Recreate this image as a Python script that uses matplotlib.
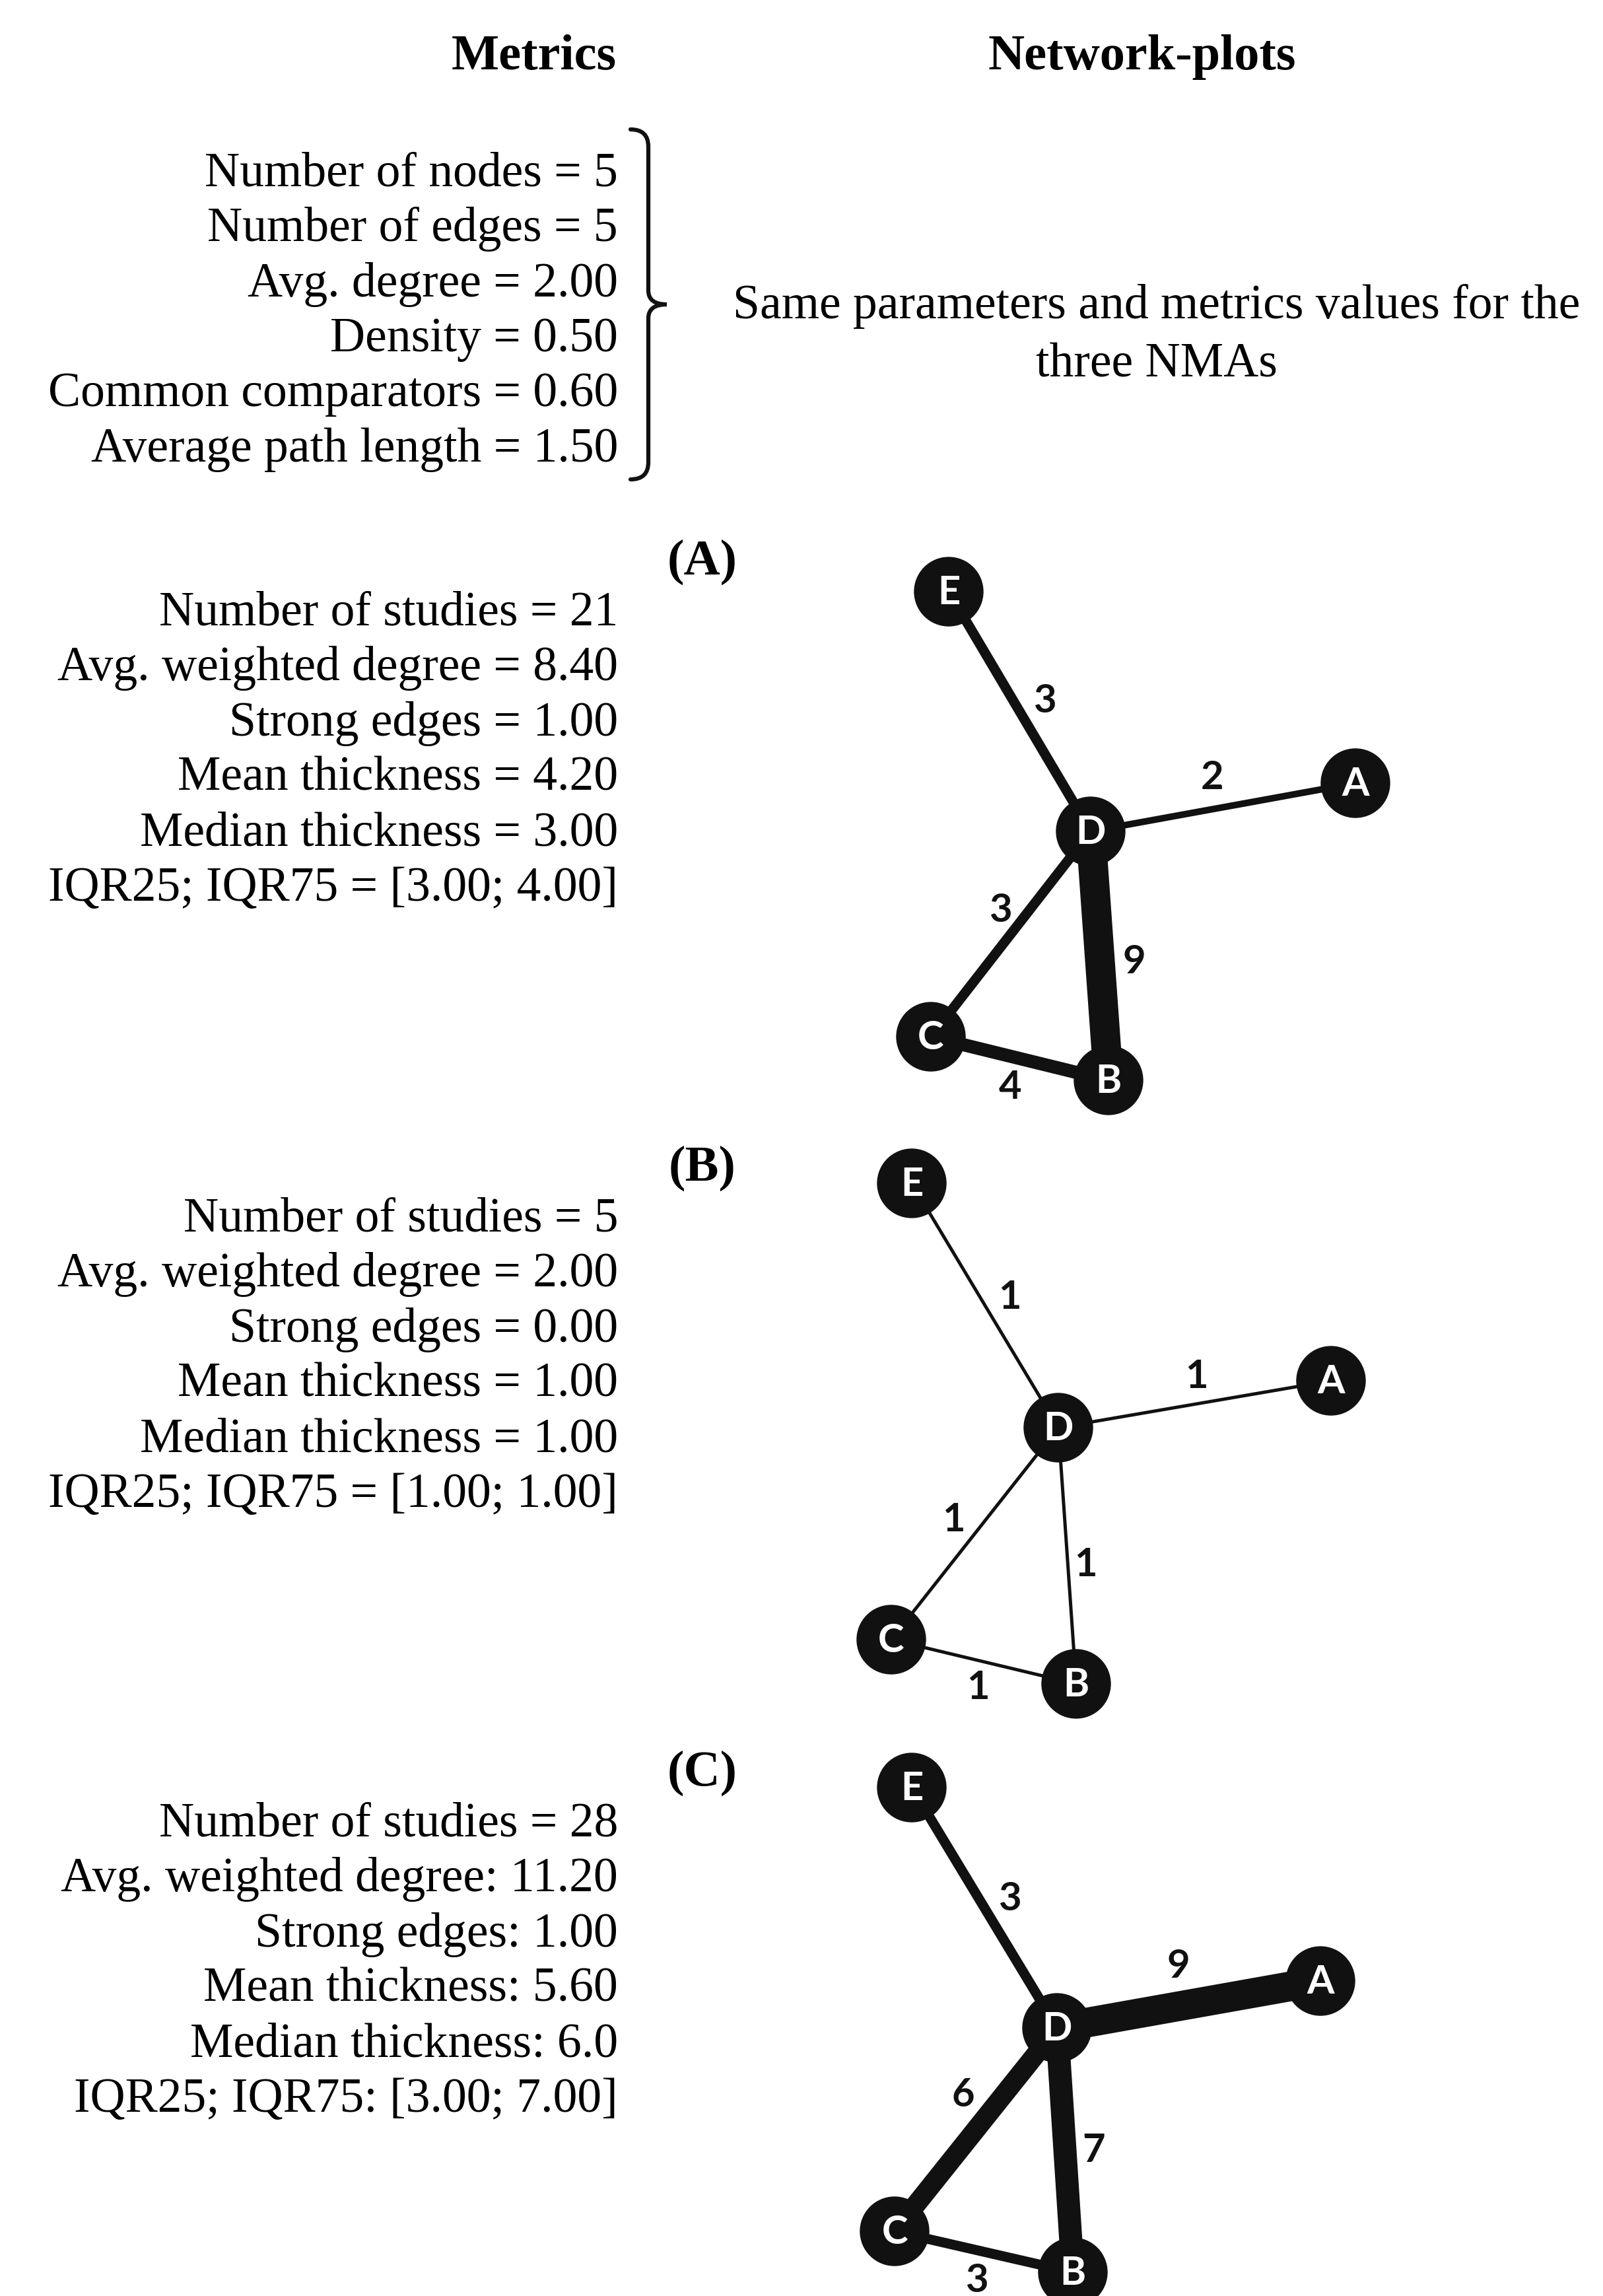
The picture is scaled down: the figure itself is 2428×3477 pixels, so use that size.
import numpy as np
import matplotlib
matplotlib.use("Agg")
import matplotlib.pyplot as plt
from matplotlib.path import Path
from matplotlib.patches import PathPatch, Circle

W, H, DPI = 2428, 3477, 100

# ---- data ----
shared_metrics = ["Number of nodes = 5", "Number of edges = 5", "Avg. degree = 2.00",
                  "Density = 0.50", "Common comparators = 0.60", "Average path length = 1.50"]
shared_note = "Same parameters and metrics values for the\nthree NMAs"

panel_names = ["(A)", "(B)", "(C)"]
panel_metrics = [
    ["Number of studies = 21", "Avg. weighted degree = 8.40", "Strong edges = 1.00",
     "Mean thickness = 4.20", "Median thickness = 3.00", "IQR25; IQR75 = [3.00; 4.00]"],
    ["Number of studies = 5", "Avg. weighted degree = 2.00", "Strong edges = 0.00",
     "Mean thickness = 1.00", "Median thickness = 1.00", "IQR25; IQR75 = [1.00; 1.00]"],
    ["Number of studies = 28", "Avg. weighted degree: 11.20", "Strong edges: 1.00",
     "Mean thickness: 5.60", "Median thickness: 6.0", "IQR25; IQR75: [3.00; 7.00]"],
]

nodes = ["E", "A", "D", "C", "B"]
edges = [("E", "D"), ("D", "A"), ("D", "C"), ("D", "B"), ("C", "B")]
weights = [
    [3, 2, 3, 9, 4],
    [1, 1, 1, 1, 1],
    [3, 9, 6, 7, 3],
]
# node layouts (local panel units, y down)
layouts = [
    {"E": (187, 116), "A": (803, 406), "D": (402, 479), "C": (160, 790), "B": (429, 856)},
    {"E": (131, 92), "A": (766, 391), "D": (353, 462), "C": (100, 783), "B": (380, 850)},
    {"E": (131, 107), "A": (750, 400), "D": (351, 471), "C": (105, 779), "B": (375, 841)},
]
# edge label positions (same order as edges)
label_pos = [
    [(332, 282), (586, 398), (265, 599), (468, 677), (280, 867)],
    [(279, 265), (562, 385), (194, 602), (394, 670), (231, 856)],
    [(279, 276), (535, 378), (209, 573), (407, 657), (229, 854)],
]

serif = ["Liberation Serif", "DejaVu Serif"]
sans = ["Lato", "Open Sans", "DejaVu Sans"]
ink = "#111111"

fig = plt.figure(figsize=(W / DPI, H / DPI), dpi=DPI)
fig.patch.set_facecolor("white")
ax = fig.add_axes([0, 0, 1, 1])
ax.set_xlim(0, W)
ax.set_ylim(H, 0)
ax.axis("off")

fs = 53
ax.text(809, 86, "Metrics", ha="center", va="center", fontsize=55, fontweight="bold", family=serif)
ax.text(1730, 86, "Network-plots", ha="center", va="center", fontsize=55, fontweight="bold", family=serif)

x_right = 936
for i, s in enumerate(shared_metrics):
    ax.text(x_right, 264 + i * 83.4, s, ha="right", va="center", fontsize=fs, family=serif)

ax.text(1752, 508, shared_note, ha="center", va="center", fontsize=fs, family=serif,
        linespacing=1.4)

# brace
verts = [(955, 196), (982, 196), (982, 222),
         (982, 440),
         (982, 461), (1010, 461),
         (982, 461), (982, 482),
         (982, 700),
         (982, 726), (955, 726)]
codes = [Path.MOVETO, Path.CURVE3, Path.CURVE3,
         Path.LINETO,
         Path.CURVE3, Path.CURVE3,
         Path.CURVE3, Path.CURVE3,
         Path.LINETO,
         Path.CURVE3, Path.CURVE3]
ax.add_patch(PathPatch(Path(verts, codes), fill=False, lw=4.5, color=ink, capstyle="round"))

panel_tops = [780, 1700, 2600]
label_y = [851, 1769, 2685]
metric_y0 = [929, 1847, 2763]

for p in range(3):
    ax.text(1064, label_y[p], panel_names[p], ha="center", va="center", fontsize=55,
            fontweight="bold", family=serif)
    for i, s in enumerate(panel_metrics[p]):
        ax.text(x_right, metric_y0[p] + i * 83.4, s, ha="right", va="center", fontsize=fs, family=serif)

    pax = fig.add_axes([1250 / W, 1 - (panel_tops[p] + 900) / H, 900 / W, 900 / H])
    pax.set_xlim(0, 900)
    pax.set_ylim(900, 0)
    pax.axis("off")
    pos = layouts[p]
    for (a, b), w, (lx, ly) in zip(edges, weights[p], label_pos[p]):
        lw_px = 5.0 * w
        pax.plot([pos[a][0], pos[b][0]], [pos[a][1], pos[b][1]], color=ink,
                 lw=lw_px * 72 / DPI, solid_capstyle="butt", zorder=1, clip_on=False)
        pax.text(lx, ly, str(w), ha="center", va="center", fontsize=43, fontweight="bold",
                 family=sans, color=ink, zorder=3, clip_on=False)
    for n in nodes:
        pax.add_patch(Circle(pos[n], 52, color=ink, zorder=2, clip_on=False))
        pax.text(pos[n][0], pos[n][1] + 2, n, ha="center", va="center", fontsize=43,
                 fontweight="bold", family=sans, color="white", zorder=4, clip_on=False)

fig.savefig("out.png", dpi=DPI, facecolor="white")
